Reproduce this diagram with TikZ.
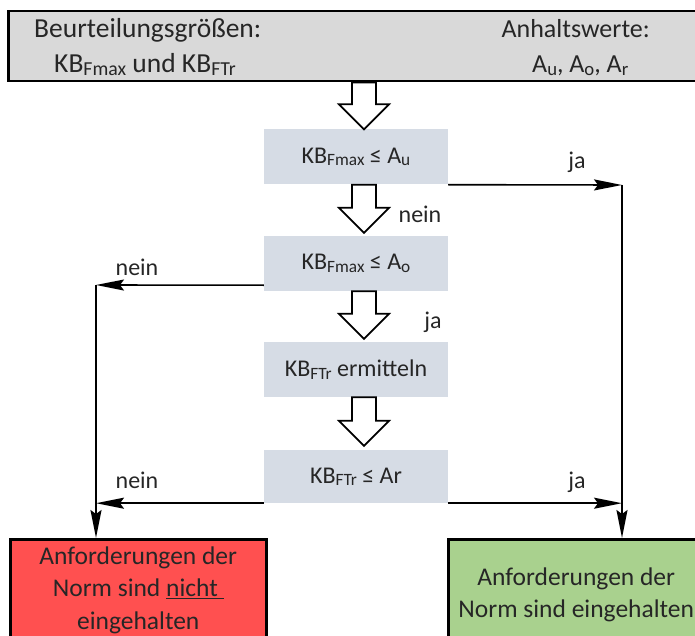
\documentclass[tikz,border=0pt]{standalone}
\usepackage{fontspec}
\setmainfont{Carlito}
\usetikzlibrary{arrows.meta,calc}
\definecolor{txt}{HTML}{262626}
\definecolor{topfill}{HTML}{D9D9D9}
\definecolor{boxfill}{HTML}{D6DCE5}
\definecolor{redfill}{HTML}{FF5050}
\definecolor{greenfill}{HTML}{A9D18E}
\newcommand\sbs[1]{\raisebox{-0.1em}{\scalebox{0.72}{#1}}}
\newcommand\barrow[2]{\draw[blockarr] let \p1=(#1), \p2=(#2) in
  (\x1-12pt,\y1) -- (\x1+12pt,\y1) -- (\x1+12pt,\y2+25pt) -- (\x1+25pt,\y2+25pt)
  -- (\x1,\y2) -- (\x1-25pt,\y2+25pt) -- (\x1-12pt,\y2+25pt) -- cycle;}
\begin{document}
\begin{tikzpicture}[x=1pt,y=-1pt,
  flowbox/.style={fill=boxfill, minimum width=184pt, minimum height=55pt, inner sep=0pt,
    font=\fontsize{24}{29}\selectfont, text=txt},
  bigtxt/.style={font=\fontsize{26}{33}\selectfont, text=txt, inner sep=0pt},
  lefttxt/.style={font=\fontsize{27.5}{33}\selectfont, text=txt, inner sep=0pt},
  lbl/.style={font=\fontsize{24}{29}\selectfont, text=txt, inner sep=0pt},
  endbox/.style={draw=black, line width=2.5pt, minimum width=256pt, inner sep=0pt,
    align=center, font=\fontsize{25.5}{32.5}\selectfont, text=txt, anchor=north west},
  conn/.style={line width=1.6pt, -{Stealth[length=28pt,width=11pt,inset=4pt]}},
  blockarr/.style={draw=black, line width=1.8pt, fill=white, line join=miter}]
\useasboundingbox (0,0) rectangle (695,636);
% top box
\node[draw=black, line width=2.5pt, fill=topfill, minimum width=700pt, minimum height=70pt,
  anchor=north west, inner sep=0pt] (topbox) at (7,10) {};
\node[lefttxt, anchor=base west] (t1) at (34,38) {Beurteilungsgrößen:};
\node[lefttxt, anchor=base west] (t2) at (54,73) {KB\sbs{Fmax} und KB\sbs{FTr}};
\node[bigtxt, anchor=base east] (t3) at (650,38) {Anhaltswerte:};
\node[bigtxt, anchor=base west] (t4) at (532,73) {A\sbs{u}, A\sbs{o}, A\sbs{r}};
% flow boxes
\node[flowbox] (box1) at (356,157) {KB\sbs{Fmax} ≤ A\sbs{u}};
\node[flowbox] (box2) at (356,263.5) {KB\sbs{Fmax} ≤ A\sbs{o}};
\node[flowbox] (box3) at (356,369.5) {KB\sbs{FTr} ermitteln};
\node[flowbox, minimum height=53pt] (box4) at (356,476.5) {KB\sbs{FTr} ≤ Ar};
% result boxes
\node[endbox, fill=redfill, minimum height=102pt] (red) at (9,538)
  {Anforderungen der\\ Norm sind \underline{nicht\ }\\ eingehalten};
\node[endbox, fill=greenfill, minimum height=111pt] (green) at (447,538)
  {Anforderungen der\\ Norm sind eingehalten};
% block arrows
\coordinate (ax) at (364,0);
\barrow{ax |- topbox.south}{ax |- box1.north}
\barrow{ax |- box1.south}{[yshift=3pt]ax |- box2.north}
\barrow{ax |- box2.south}{[yshift=3pt]ax |- box3.north}
\barrow{ax |- box3.south}{[yshift=4pt]ax |- box4.north}
% connectors
\coordinate (jR) at (622,185);
\coordinate (jL) at (96,285);
\draw[conn] (box1.south east) -- (jR);
\draw[conn] (jR) -- (jR |- green.north);
\draw[conn] (box4.south east) -- (box4.south east -| jR);
\draw[conn] ([yshift=6pt]box2.south west) -- (jL);
\draw[conn] (jL) -- (jL |- red.north);
\draw[conn] (box4.south west) -- (box4.south west -| jL);
% labels
\node[lbl] (l1) at (577,162) {ja};
\node[lbl] (l2) at (420,214) {nein};
\node[lbl] (l3) at (137,267) {nein};
\node[lbl] (l4) at (433,322) {ja};
\node[lbl] (l5) at (137,480) {nein};
\node[lbl] (l6) at (577,482) {ja};
\end{tikzpicture}
\end{document}
